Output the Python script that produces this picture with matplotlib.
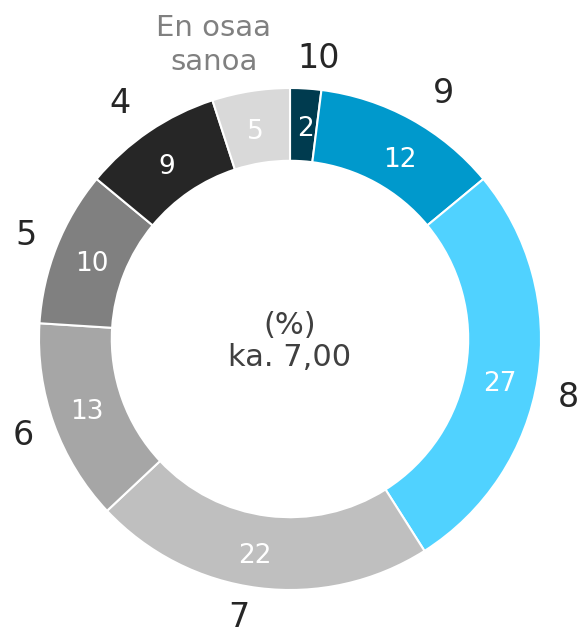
import numpy as np
import matplotlib.pyplot as plt

categories = ['10', '9', '8', '7', '6', '5', '4', 'En osaa\nsanoa']
values = [2, 12, 27, 22, 13, 10, 9, 5]
colors = ['#003B4F', '#0099CC', '#50D2FF', '#BFBFBF', '#A6A6A6', '#808080', '#262626', '#D9D9D9']
center_text = '(%)\nka. 7,00'

# small pixel nudges (dx right, dy down) so labels sit where the original puts them
label_nudge = [(11, 3), (17, 3), (-2, 14), (-16, -3), (0, 0), (0, 1), (-11, -1), (0, 0)]
value_nudge = [(2, 0), (7, 5), (-1, 9), (-8, 2), (-2, -2), (0, 1), (-3, 1), (-1, 1)]

W, H = 579, 637
cx, cy, R = 290, 339, 251

fig = plt.figure(figsize=(W / 100, H / 100), dpi=100)
ax = fig.add_axes([0, 0, 1, 1])

wedges, texts, autotexts = ax.pie(
    values, labels=categories, colors=colors, startangle=90, counterclock=False,
    radius=1, labeldistance=1.13, pctdistance=0.85,
    autopct=lambda p: f'{p:.0f}',
    wedgeprops=dict(width=0.29, edgecolor='white', linewidth=1.5),
    textprops=dict(fontsize=24, color='#262626'))


def nudge(t, d):
    x, y = t.get_position()
    t.set_position((x + d[0] / R, y - d[1] / R))


for t, d in zip(texts, label_nudge):
    t.set_ha('center')
    t.set_va('center')
    nudge(t, d)

for t, d in zip(autotexts, value_nudge):
    t.set_color('white')
    t.set_fontsize(19)
    t.set_va('center_baseline')
    nudge(t, d)

# "En osaa sanoa" label sits further out, a bit to the left, in grey
eos = texts[-1]
ang = np.deg2rad(90 + 14.5)
eos.set_position((1.21 * np.cos(ang), 1.21 * np.sin(ang)))
eos.set_color('#808080')
eos.set_fontsize(21)
eos.set_linespacing(1.27)

ax.text(0, -0.01, center_text, ha='center', va='center', fontsize=22,
        color='#404040', linespacing=1.15)

ax.set_xlim(-cx / R, (W - cx) / R)
ax.set_ylim(-(H - cy) / R, cy / R)
ax.set_aspect('equal')
ax.axis('off')

fig.savefig('out.png', dpi=100)
